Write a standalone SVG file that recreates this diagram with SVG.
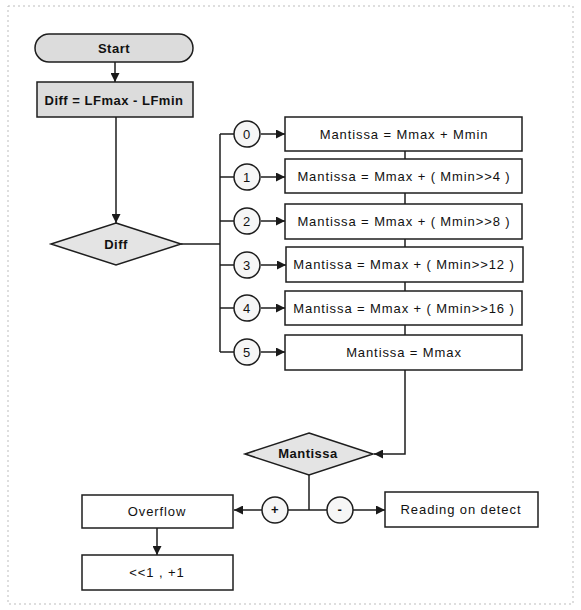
<svg xmlns="http://www.w3.org/2000/svg" width="581" height="610" viewBox="0 0 581 610">
<defs>
<marker id="ah" viewBox="0 0 10 10" refX="10" refY="5" markerWidth="9" markerHeight="9" markerUnits="userSpaceOnUse" orient="auto">
<path d="M0,0 L10,5 L0,10 z" fill="#1a1a1a"/>
</marker>
</defs>
<style>
.frame{fill:none;stroke:#bdbdbd;stroke-width:1;stroke-dasharray:2 3}
.box{fill:#ffffff;stroke:#1e1e1e;stroke-width:1.5}
.shaded{fill:#dcdcdc;stroke:#1e1e1e;stroke-width:1.5}
.dia{fill:#e4e4e4;stroke:#1e1e1e;stroke-width:1.5}
.circ{fill:#f6f6f6;stroke:#1e1e1e;stroke-width:1.5}
.ln{fill:none;stroke:#1e1e1e;stroke-width:1.5}
.arr{fill:none;stroke:#1e1e1e;stroke-width:1.5;marker-end:url(#ah)}
text{font-family:"Liberation Sans",Arial,sans-serif;font-size:13px;fill:#111;text-anchor:middle;dominant-baseline:central;letter-spacing:0.9px}
.b{font-weight:bold;letter-spacing:0.5px}
</style>
<rect width="581" height="610" fill="#ffffff"/>
<rect class="frame" x="8" y="6" width="565" height="598"/>

<g id="connectors">
<line class="arr" x1="115" y1="62" x2="115" y2="82"/>
<line class="arr" x1="116" y1="117" x2="116" y2="223"/>
<polyline class="ln" points="181,244 220,244"/>
<line class="ln" x1="220" y1="134" x2="220" y2="352"/>
<line class="ln" x1="220" y1="134" x2="234" y2="134"/>
<line class="ln" x1="220" y1="177" x2="234" y2="177"/>
<line class="ln" x1="220" y1="221" x2="234" y2="221"/>
<line class="ln" x1="220" y1="265" x2="234" y2="265"/>
<line class="ln" x1="220" y1="308" x2="234" y2="308"/>
<line class="ln" x1="220" y1="352" x2="234" y2="352"/>
<line class="arr" x1="261" y1="134" x2="285" y2="134"/>
<line class="arr" x1="261" y1="177" x2="285" y2="177"/>
<line class="arr" x1="261" y1="221" x2="285" y2="221"/>
<line class="arr" x1="261" y1="265" x2="286" y2="265"/>
<line class="arr" x1="261" y1="308" x2="285" y2="308"/>
<line class="arr" x1="261" y1="352" x2="285" y2="352"/>
<line class="ln" x1="405" y1="151" x2="405" y2="159"/>
<line class="ln" x1="405" y1="193" x2="405" y2="204"/>
<line class="ln" x1="405" y1="239" x2="405" y2="247"/>
<line class="ln" x1="405" y1="282" x2="405" y2="291"/>
<line class="ln" x1="405" y1="325" x2="405" y2="335"/>
<polyline class="arr" points="405,370 405,454 374,454"/>
<line class="ln" x1="309" y1="475" x2="309" y2="510"/>
<line class="ln" x1="288" y1="510" x2="327" y2="510"/>
<line class="arr" x1="262" y1="510" x2="234" y2="510"/>
<line class="arr" x1="353" y1="510" x2="385" y2="510"/>
<line class="arr" x1="157" y1="528" x2="157" y2="555"/>
</g>

<g id="start">
<rect class="shaded" x="35" y="34" width="158" height="28" rx="14"/>
<text class="b" x="114" y="48">Start</text>
</g>
<g id="diffcalc">
<rect class="shaded" x="37" y="82" width="156" height="35"/>
<text class="b" x="114" y="100">Diff = LFmax - LFmin</text>
</g>
<g id="diff">
<polygon class="dia" points="116,223 181,244 116,265 51,244"/>
<text class="b" x="116" y="244">Diff</text>
</g>

<g id="c0"><circle class="circ" cx="247" cy="134" r="13"/><text x="247" y="134">0</text></g>
<g id="c1"><circle class="circ" cx="247" cy="177" r="13"/><text x="247" y="177">1</text></g>
<g id="c2"><circle class="circ" cx="247" cy="221" r="13"/><text x="247" y="221">2</text></g>
<g id="c3"><circle class="circ" cx="247" cy="265" r="13"/><text x="247" y="265">3</text></g>
<g id="c4"><circle class="circ" cx="247" cy="308" r="13"/><text x="247" y="308">4</text></g>
<g id="c5"><circle class="circ" cx="247" cy="352" r="13"/><text x="247" y="352">5</text></g>

<g id="m0"><rect class="box" x="285" y="117" width="237" height="34"/><text x="404" y="134">Mantissa = Mmax + Mmin</text></g>
<g id="m1"><rect class="box" x="285" y="159" width="237" height="34"/><text x="404" y="176">Mantissa = Mmax + ( Mmin&gt;&gt;4 )</text></g>
<g id="m2"><rect class="box" x="285" y="204" width="237" height="35"/><text x="404" y="221">Mantissa = Mmax + ( Mmin&gt;&gt;8 )</text></g>
<g id="m3"><rect class="box" x="286" y="247" width="237" height="35"/><text x="404" y="264">Mantissa = Mmax + ( Mmin&gt;&gt;12 )</text></g>
<g id="m4"><rect class="box" x="285" y="291" width="237" height="34"/><text x="404" y="308">Mantissa = Mmax + ( Mmin&gt;&gt;16 )</text></g>
<g id="m5"><rect class="box" x="285" y="335" width="237" height="35"/><text x="404" y="352">Mantissa = Mmax</text></g>

<g id="mantissa">
<polygon class="dia" points="309,433 373,454 309,475 245,454"/>
<text class="b" x="308" y="453">Mantissa</text>
</g>
<g id="plus"><circle class="circ" cx="275" cy="510" r="13"/><text class="b" x="275" y="509">+</text></g>
<g id="minus"><circle class="circ" cx="340" cy="510" r="13"/><text class="b" x="340" y="509">-</text></g>

<g id="overflow"><rect class="box" x="82" y="495" width="151" height="33"/><text x="157" y="511">Overflow</text></g>
<g id="shift"><rect class="box" x="82" y="555" width="151" height="35"/><text x="157" y="572">&lt;&lt;1 , +1</text></g>
<g id="reading"><rect class="box" x="385" y="492" width="153" height="35"/><text x="461" y="509">Reading on detect</text></g>
</svg>
